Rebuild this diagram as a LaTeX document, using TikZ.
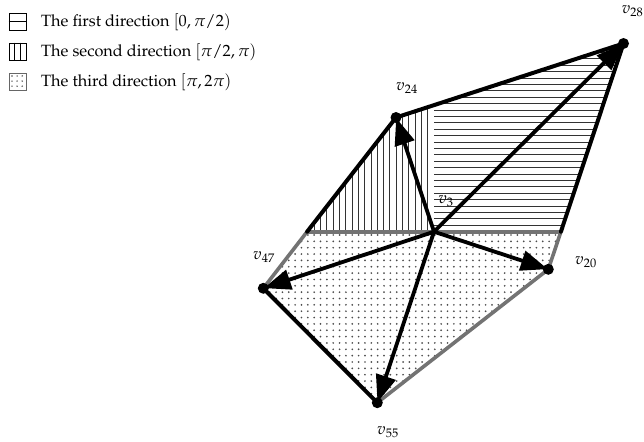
\documentclass[tikz,border=0pt]{standalone}
\usepackage[T1]{fontenc}
\usepackage{mathpazo}
\usetikzlibrary{arrows.meta,calc}
\begin{document}
\begin{tikzpicture}[x=1pt,y=-1pt,
  vtx/.style={circle,fill=black,inner sep=0pt,minimum size=11pt},
  blk/.style={line width=4pt,black,line cap=round},
  gry/.style={line width=3.6pt,black!55},
  arr/.style={line width=3.8pt,-{Triangle[length=27pt,width=20pt]},shorten >=0.5pt},
  hatch/.style={line width=0.85pt,black!80},
  dotc/.style={fill=black!70},
  lab/.style={font=\fontsize{16.3}{19}\selectfont,inner sep=0pt},
  lbox/.style={draw,line width=0.8pt,minimum width=17pt,minimum height=17pt,inner sep=0pt},
]
\useasboundingbox (0,0) rectangle (644,441);
% vertices
\coordinate (v3) at (434,231.7);
\coordinate (v24p) at (396,117.5);
\coordinate (v28p) at (623.5,43.5);
\coordinate (v20p) at (548.3,269.3);
\coordinate (v47p) at (263.3,288.3);
\coordinate (v55p) at (377.3,402.7);
\coordinate (L) at (307.1,231.7);
\coordinate (R) at (560.9,231.7);
\coordinate (M) at (434,104.9);
% dotted region
\begin{scope}
  \clip (L) -- (R) -- (v20p) -- (v55p) -- (v47p) -- cycle;
  \foreach \i in {0,...,50}
    \foreach \j in {0,...,28}
      \fill[dotc] (257+\i*6.35, 235+\j*6.35) circle (0.95pt);
\end{scope}
% horizontal hatching
\begin{scope}
  \clip (v3) -- (R) -- (v28p) -- (M) -- cycle;
  \foreach \k in {1,...,31}
    \draw[hatch] (430, 231.7-\k*6.4) -- (640, 231.7-\k*6.4);
\end{scope}
% vertical hatching
\begin{scope}
  \clip (L) -- (v24p) -- (M) -- (v3) -- cycle;
  \foreach \k in {0,...,21}
    \draw[hatch] (434-\k*6.3, 240) -- (434-\k*6.3, 95);
\end{scope}
% outline
\draw[gry] (v47p) -- (L);
\draw[gry] (L) -- (R);
\draw[gry] (R) -- (v20p) -- (v55p);
\draw[blk] (L) -- (v24p) -- (v28p) -- (R);
\draw[blk] (v55p) -- (v47p);
% vertex dots
\node[vtx] (v24) at (v24p) {};
\node[vtx] (v28) at (v28p) {};
\node[vtx] (v20) at (v20p) {};
\node[vtx] (v47) at (v47p) {};
\node[vtx] (v55) at (v55p) {};
% arrows
\foreach \t in {v24,v28,v20,v47,v55}
  \draw[arr] (v3) -- (\t.center);
% labels
\node[lab] (l24) at (407,88) {$v_{24}$};
\node[lab,anchor=east] (l28) at (643.5,11.5) {$v_{28}$};
\node[lab] (l3) at (446,201) {$v_{3}$};
\node[lab] (l20) at (586,262) {$v_{20}$};
\node[lab] (l47) at (264,257) {$v_{47}$};
\node[lab] (l55) at (388,432) {$v_{55}$};
% legend
\node[lbox] (b1) at (17.5,21.5) {};
\draw[line width=0.8pt] (b1.west) -- (b1.east);
\node[lbox] (b2) at (17.5,51.5) {};
\draw[line width=0.8pt] ($(b2.north west)!0.333!(b2.north east)$) -- ($(b2.south west)!0.333!(b2.south east)$);
\draw[line width=0.8pt] ($(b2.north west)!0.667!(b2.north east)$) -- ($(b2.south west)!0.667!(b2.south east)$);
\node[lbox,draw=black!60] (b3) at (17.5,81.5) {};
\foreach \a in {0.2,0.5,0.8}
  \foreach \b in {0.2,0.5,0.8}
    \fill[dotc] ($(b3.north west)+(17*\a,17*\b)$) circle (0.8pt);
\node[lab,anchor=base west] (t1) at (41,27) {The first direction $[0,\pi/2)$};
\node[lab,anchor=base west] (t2) at (41,57) {The second direction $[\pi/2,\pi)$};
\node[lab,anchor=base west] (t3) at (41,87) {The third direction $[\pi,2\pi)$};
\end{tikzpicture}
\end{document}
